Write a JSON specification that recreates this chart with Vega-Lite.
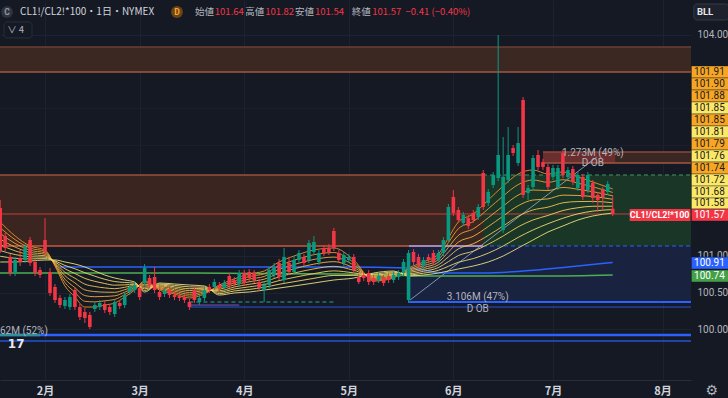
{
"$schema":"https://vega.github.io/schema/vega-lite/v6.json",
"width":691,"height":380,
"autosize":{"type":"none"},
"padding":{"left":0,"top":0,"right":37,"bottom":18},
"background":"#151924",
"config":{"view":{"stroke":null},"font":"Noto Sans CJK JP"},
"datasets":{
"candles":[
{"x":-9,"o":101.649,"c":101.079,"y2":101.758,"y":101.038},
{"x":-8,"o":101.269,"c":101.106,"y2":101.31,"y":101.065},
{"x":-7,"o":100.984,"c":100.766,"y2":101.024,"y":100.725},
{"x":-6,"o":100.766,"c":100.943,"y2":100.984,"y":100.725},
{"x":-5,"o":100.97,"c":100.916,"y2":101.079,"y":100.861},
{"x":-4,"o":100.943,"c":101.12,"y2":101.16,"y":100.902},
{"x":-3,"o":101.215,"c":100.902,"y2":101.255,"y":100.861},
{"x":-2,"o":100.916,"c":100.766,"y2":100.957,"y":100.725},
{"x":-1,"o":100.807,"c":100.739,"y2":100.848,"y":100.698},
{"x":0,"o":101.215,"c":101.052,"y2":101.513,"y":101.011},
{"x":1,"o":100.78,"c":100.495,"y2":100.834,"y":100.454},
{"x":2,"o":100.576,"c":100.399,"y2":100.617,"y":100.359},
{"x":3,"o":100.427,"c":100.331,"y2":100.467,"y":100.291},
{"x":4,"o":100.318,"c":100.399,"y2":100.44,"y":100.277},
{"x":5,"o":100.304,"c":100.44,"y2":100.481,"y":100.264},
{"x":6,"o":100.535,"c":100.304,"y2":100.576,"y":100.264},
{"x":7,"o":100.304,"c":100.168,"y2":100.345,"y":100.128},
{"x":8,"o":100.236,"c":100.155,"y2":100.291,"y":100.087},
{"x":9,"o":100.196,"c":100.033,"y2":100.236,"y":100.005},
{"x":10,"o":100.277,"c":100.331,"y2":100.372,"y":100.236},
{"x":11,"o":100.304,"c":100.359,"y2":100.399,"y":100.264},
{"x":12,"o":100.345,"c":100.264,"y2":100.386,"y":100.223},
{"x":13,"o":100.304,"c":100.236,"y2":100.345,"y":100.196},
{"x":14,"o":100.209,"c":100.372,"y2":100.399,"y":100.168},
{"x":15,"o":100.359,"c":100.318,"y2":100.399,"y":100.277},
{"x":16,"o":100.331,"c":100.467,"y2":100.508,"y":100.291},
{"x":17,"o":100.508,"c":100.576,"y2":100.617,"y":100.467},
{"x":18,"o":100.535,"c":100.603,"y2":100.644,"y":100.495},
{"x":19,"o":100.562,"c":100.44,"y2":100.603,"y":100.399},
{"x":20,"o":100.63,"c":100.834,"y2":100.888,"y":100.59},
{"x":21,"o":100.698,"c":100.603,"y2":100.739,"y":100.562},
{"x":22,"o":100.712,"c":100.535,"y2":100.848,"y":100.495},
{"x":23,"o":100.508,"c":100.44,"y2":100.549,"y":100.399},
{"x":24,"o":100.481,"c":100.522,"y2":100.562,"y":100.44},
{"x":25,"o":100.535,"c":100.467,"y2":100.576,"y":100.427},
{"x":26,"o":100.467,"c":100.44,"y2":100.508,"y":100.399},
{"x":27,"o":100.454,"c":100.427,"y2":100.495,"y":100.386},
{"x":28,"o":100.44,"c":100.399,"y2":100.481,"y":100.359},
{"x":29,"o":100.372,"c":100.304,"y2":100.413,"y":100.264},
{"x":30,"o":100.535,"c":100.399,"y2":100.59,"y":100.359},
{"x":31,"o":100.372,"c":100.427,"y2":100.467,"y":100.331},
{"x":32,"o":100.427,"c":100.535,"y2":100.576,"y":100.386},
{"x":33,"o":100.576,"c":100.535,"y2":100.617,"y":100.495},
{"x":34,"o":100.576,"c":100.644,"y2":100.685,"y":100.535},
{"x":35,"o":100.603,"c":100.562,"y2":100.644,"y":100.522},
{"x":36,"o":100.562,"c":100.63,"y2":100.671,"y":100.522},
{"x":37,"o":100.725,"c":100.603,"y2":100.766,"y":100.562},
{"x":38,"o":100.671,"c":100.617,"y2":100.712,"y":100.576},
{"x":39,"o":100.617,"c":100.766,"y2":100.807,"y":100.576},
{"x":40,"o":100.766,"c":100.63,"y2":100.807,"y":100.59},
{"x":41,"o":100.78,"c":100.698,"y2":100.82,"y":100.657},
{"x":42,"o":100.766,"c":100.671,"y2":100.807,"y":100.63},
{"x":43,"o":100.644,"c":100.562,"y2":100.685,"y":100.522},
{"x":44,"o":100.535,"c":100.603,"y2":100.644,"y":100.372},
{"x":45,"o":100.603,"c":100.807,"y2":100.848,"y":100.562},
{"x":46,"o":100.739,"c":100.848,"y2":100.902,"y":100.698},
{"x":47,"o":100.902,"c":100.712,"y2":100.957,"y":100.671},
{"x":48,"o":100.671,"c":100.984,"y2":101.106,"y":100.63},
{"x":49,"o":100.902,"c":100.78,"y2":100.984,"y":100.739},
{"x":50,"o":100.78,"c":100.943,"y2":100.997,"y":100.739},
{"x":51,"o":100.943,"c":101.038,"y2":101.079,"y":100.902},
{"x":52,"o":100.984,"c":100.902,"y2":101.024,"y":100.861},
{"x":53,"o":100.943,"c":101.174,"y2":101.215,"y":100.902},
{"x":54,"o":101.052,"c":101.187,"y2":101.269,"y":101.011},
{"x":55,"o":100.916,"c":101.038,"y2":101.079,"y":100.875},
{"x":56,"o":101.106,"c":101.038,"y2":101.147,"y":100.997},
{"x":57,"o":101.106,"c":101.052,"y2":101.16,"y":101.011},
{"x":58,"o":101.337,"c":101.106,"y2":101.378,"y":101.065},
{"x":59,"o":101.038,"c":100.943,"y2":101.079,"y":100.902},
{"x":60,"o":100.902,"c":101.011,"y2":101.052,"y":100.861},
{"x":61,"o":100.943,"c":100.984,"y2":101.024,"y":100.902},
{"x":62,"o":100.984,"c":100.807,"y2":101.024,"y":100.766},
{"x":63,"o":100.712,"c":100.644,"y2":100.753,"y":100.617},
{"x":64,"o":100.739,"c":100.698,"y2":100.78,"y":100.657},
{"x":65,"o":100.766,"c":100.644,"y2":100.807,"y":100.603},
{"x":66,"o":100.698,"c":100.644,"y2":100.739,"y":100.603},
{"x":67,"o":100.671,"c":100.725,"y2":100.766,"y":100.63},
{"x":68,"o":100.698,"c":100.63,"y2":100.739,"y":100.59},
{"x":69,"o":100.712,"c":100.671,"y2":100.753,"y":100.63},
{"x":70,"o":100.671,"c":100.739,"y2":100.78,"y":100.63},
{"x":71,"o":100.712,"c":100.766,"y2":100.807,"y":100.671},
{"x":72,"o":100.766,"c":100.916,"y2":100.957,"y":100.725},
{"x":73,"o":100.399,"c":101.038,"y2":101.079,"y":100.359},
{"x":74,"o":101.052,"c":100.916,"y2":101.092,"y":100.875},
{"x":75,"o":100.984,"c":100.875,"y2":101.024,"y":100.834},
{"x":76,"o":100.861,"c":100.943,"y2":100.984,"y":100.82},
{"x":77,"o":100.984,"c":100.943,"y2":101.024,"y":100.902},
{"x":78,"o":101.038,"c":100.916,"y2":101.079,"y":100.875},
{"x":79,"o":100.943,"c":101.038,"y2":101.079,"y":100.902},
{"x":80,"o":101.038,"c":101.215,"y2":101.255,"y":100.997},
{"x":81,"o":101.215,"c":101.663,"y2":101.704,"y":101.174},
{"x":82,"o":101.799,"c":101.581,"y2":101.894,"y":101.541},
{"x":83,"o":101.622,"c":101.486,"y2":101.663,"y":101.446},
{"x":84,"o":101.446,"c":101.554,"y2":101.595,"y":101.405},
{"x":85,"o":101.513,"c":101.405,"y2":101.554,"y":101.364},
{"x":86,"o":101.581,"c":101.486,"y2":101.622,"y":101.446},
{"x":87,"o":101.527,"c":101.663,"y2":101.704,"y":101.486},
{"x":88,"o":102.125,"c":101.663,"y2":102.166,"y":101.622},
{"x":89,"o":101.717,"c":101.867,"y2":101.908,"y":101.676},
{"x":90,"o":101.962,"c":102.098,"y2":102.139,"y":101.921},
{"x":91,"o":102.057,"c":102.37,"y2":104.0,"y":102.016},
{"x":92,"o":101.351,"c":102.071,"y2":102.614,"y":101.31},
{"x":93,"o":102.03,"c":102.37,"y2":102.75,"y":101.989},
{"x":94,"o":102.465,"c":102.397,"y2":102.505,"y":102.356},
{"x":95,"o":102.261,"c":102.532,"y2":102.75,"y":102.22},
{"x":96,"o":103.117,"c":101.826,"y2":103.158,"y":101.785},
{"x":97,"o":101.853,"c":101.921,"y2":101.962,"y":101.758},
{"x":98,"o":101.935,"c":102.329,"y2":102.37,"y":101.894},
{"x":99,"o":102.37,"c":102.207,"y2":102.438,"y":102.166},
{"x":100,"o":102.274,"c":102.207,"y2":102.315,"y":102.166},
{"x":101,"o":102.207,"c":101.935,"y2":102.247,"y":101.894},
{"x":102,"o":102.071,"c":102.193,"y2":102.234,"y":102.03},
{"x":103,"o":101.935,"c":102.193,"y2":102.234,"y":101.894},
{"x":104,"o":102.397,"c":102.098,"y2":102.438,"y":102.057},
{"x":105,"o":102.071,"c":102.166,"y2":102.207,"y":102.03},
{"x":106,"o":102.179,"c":102.003,"y2":102.22,"y":101.962},
{"x":107,"o":101.921,"c":102.098,"y2":102.139,"y":101.88},
{"x":108,"o":102.071,"c":101.799,"y2":102.111,"y":101.758},
{"x":109,"o":101.894,"c":102.098,"y2":102.139,"y":101.853},
{"x":110,"o":101.989,"c":101.785,"y2":102.03,"y":101.717},
{"x":111,"o":101.826,"c":101.758,"y2":101.867,"y":101.595},
{"x":112,"o":101.894,"c":101.799,"y2":101.935,"y":101.622},
{"x":113,"o":101.867,"c":101.975,"y2":102.016,"y":101.826},
{"x":114,"o":101.64,"c":101.57,"y2":101.82,"y":101.54}
],
"ma":[
{"x":-9,"a":101.459,"b":101.381,"c":101.304,"d":101.226,"e":101.149,"f":101.071,"g":100.994,"h":100.916},
{"x":-6,"a":101.269,"b":101.219,"c":101.168,"d":101.118,"e":101.067,"f":101.017,"g":100.966,"h":100.916},
{"x":-3,"a":101.133,"b":101.104,"c":101.075,"d":101.046,"e":101.016,"f":100.987,"g":100.958,"h":100.929},
{"x":0,"a":101.079,"b":101.06,"c":101.04,"d":101.021,"e":101.001,"f":100.982,"g":100.962,"h":100.943},
{"x":2,"a":100.861,"b":100.873,"c":100.884,"d":100.896,"e":100.908,"f":100.92,"g":100.931,"h":100.943},
{"x":4,"a":100.59,"b":100.637,"c":100.683,"d":100.73,"e":100.776,"f":100.823,"g":100.869,"h":100.916},
{"x":6,"a":100.44,"b":100.504,"c":100.568,"d":100.632,"e":100.696,"f":100.76,"g":100.824,"h":100.888},
{"x":8,"a":100.304,"b":100.382,"c":100.459,"d":100.537,"e":100.615,"f":100.693,"g":100.77,"h":100.848},
{"x":10,"a":100.304,"b":100.374,"c":100.444,"d":100.514,"e":100.583,"f":100.653,"g":100.723,"h":100.793},
{"x":12,"a":100.331,"b":100.389,"c":100.448,"d":100.506,"e":100.564,"f":100.623,"g":100.681,"h":100.739},
{"x":14,"a":100.359,"b":100.407,"c":100.456,"d":100.504,"e":100.553,"f":100.601,"g":100.65,"h":100.698},
{"x":16,"a":100.44,"b":100.473,"c":100.506,"d":100.539,"e":100.572,"f":100.605,"g":100.638,"h":100.671},
{"x":18,"a":100.535,"b":100.551,"c":100.566,"d":100.582,"e":100.597,"f":100.613,"g":100.628,"h":100.644},
{"x":20,"a":100.657,"b":100.636,"c":100.614,"d":100.593,"e":100.572,"f":100.551,"g":100.529,"h":100.508},
{"x":23,"a":100.535,"b":100.549,"c":100.562,"d":100.576,"e":100.589,"f":100.603,"g":100.616,"h":100.63},
{"x":26,"a":100.481,"b":100.5,"c":100.52,"d":100.539,"e":100.559,"f":100.578,"g":100.598,"h":100.617},
{"x":29,"a":100.427,"b":100.452,"c":100.477,"d":100.502,"e":100.528,"f":100.553,"g":100.578,"h":100.603},
{"x":32,"a":100.481,"b":100.497,"c":100.512,"d":100.528,"e":100.543,"f":100.559,"g":100.574,"h":100.59},
{"x":35,"a":100.603,"b":100.584,"c":100.564,"d":100.545,"e":100.525,"f":100.506,"g":100.486,"h":100.467},
{"x":38,"a":100.685,"b":100.658,"c":100.631,"d":100.604,"e":100.576,"f":100.549,"g":100.522,"h":100.495},
{"x":41,"a":100.753,"b":100.718,"c":100.683,"d":100.648,"e":100.613,"f":100.578,"g":100.543,"h":100.508},
{"x":44,"a":100.793,"b":100.756,"c":100.719,"d":100.682,"e":100.646,"f":100.609,"g":100.572,"h":100.535},
{"x":47,"a":100.916,"b":100.865,"c":100.815,"d":100.764,"e":100.714,"f":100.663,"g":100.613,"h":100.562},
{"x":50,"a":100.997,"b":100.939,"c":100.881,"d":100.823,"e":100.765,"f":100.706,"g":100.648,"h":100.59},
{"x":54,"a":101.079,"b":101.015,"c":100.951,"d":100.887,"e":100.822,"f":100.758,"g":100.694,"h":100.63},
{"x":58,"a":101.106,"b":101.044,"c":100.982,"d":100.92,"e":100.857,"f":100.795,"g":100.733,"h":100.671},
{"x":62,"a":100.943,"b":100.908,"c":100.873,"d":100.838,"e":100.803,"f":100.768,"g":100.733,"h":100.698},
{"x":66,"a":100.657,"b":100.673,"c":100.688,"d":100.704,"e":100.719,"f":100.735,"g":100.75,"h":100.766},
{"x":70,"a":100.698,"b":100.712,"c":100.725,"d":100.739,"e":100.752,"f":100.766,"g":100.779,"h":100.793},
{"x":73,"a":100.834,"b":100.818,"c":100.803,"d":100.787,"e":100.772,"f":100.756,"g":100.741,"h":100.725},
{"x":76,"a":100.916,"b":100.891,"c":100.865,"d":100.84,"e":100.815,"f":100.79,"g":100.764,"h":100.739},
{"x":79,"a":101.024,"b":100.987,"c":100.95,"d":100.913,"e":100.877,"f":100.84,"g":100.803,"h":100.766},
{"x":81,"a":101.242,"b":101.178,"c":101.114,"d":101.05,"e":100.985,"f":100.921,"g":100.857,"h":100.793},
{"x":83,"a":101.459,"b":101.368,"c":101.277,"d":101.186,"e":101.094,"f":101.003,"g":100.912,"h":100.821},
{"x":86,"a":101.568,"b":101.467,"c":101.366,"d":101.265,"e":101.164,"f":101.063,"g":100.962,"h":100.861},
{"x":89,"a":101.758,"b":101.638,"c":101.517,"d":101.397,"e":101.277,"f":101.157,"g":101.036,"h":100.916},
{"x":92,"a":101.948,"b":101.812,"c":101.676,"d":101.54,"e":101.405,"f":101.269,"g":101.133,"h":100.997},
{"x":95,"a":102.111,"b":101.967,"c":101.824,"d":101.68,"e":101.537,"f":101.393,"g":101.25,"h":101.106},
{"x":98,"a":102.166,"b":102.03,"c":101.894,"d":101.758,"e":101.623,"f":101.487,"g":101.351,"h":101.215},
{"x":101,"a":102.111,"b":101.998,"c":101.886,"d":101.773,"e":101.661,"f":101.548,"g":101.436,"h":101.323},
{"x":104,"a":102.139,"b":102.034,"c":101.929,"d":101.824,"e":101.72,"f":101.615,"g":101.51,"h":101.405},
{"x":107,"a":102.071,"b":101.987,"c":101.904,"d":101.82,"e":101.737,"f":101.653,"g":101.57,"h":101.486},
{"x":110,"a":102.003,"b":101.937,"c":101.871,"d":101.805,"e":101.739,"f":101.673,"g":101.607,"h":101.541},
{"x":114,"a":101.908,"b":101.861,"c":101.815,"d":101.768,"e":101.721,"f":101.674,"g":101.628,"h":101.581}
],
"ma2":[
{"x":3,"y":100.848,"s":"b"},{"x":30,"y":100.848,"s":"b"},{"x":60,"y":100.848,"s":"b"},{"x":73,"y":100.834,"s":"b"},{"x":80,"y":100.766,"s":"b"},{"x":88,"y":100.766,"s":"b"},{"x":96,"y":100.793,"s":"b"},{"x":105,"y":100.848,"s":"b"},{"x":114,"y":100.909,"s":"b"},
{"x":-9.04,"y":100.766,"s":"g"},{"x":30,"y":100.766,"s":"g"},{"x":60,"y":100.753,"s":"g"},{"x":80,"y":100.725,"s":"g"},{"x":100,"y":100.725,"s":"g"},{"x":114,"y":100.739,"s":"g"}
],
"grid":[{"x":-9.04,"x2":129.72,"y":101.5},{"x":-9.04,"x2":129.72,"y":102},{"x":-9.04,"x2":129.72,"y":102.5},{"x":-9.04,"x2":129.72,"y":103},{"x":-9.04,"x2":129.72,"y":103.5}],
"zones":[
{"x":-9.04,"x2":129.72,"y":103.497,"y2":103.837,"k":"top"},
{"x":-9.04,"x2":87.95,"y":101.133,"y2":102.098,"k":"big"},
{"x":87.95,"x2":129.72,"y":101.133,"y2":102.098,"k":"green"},
{"x":73.1,"x2":129.72,"y":100.372,"y2":101.133,"k":"blue"},
{"x":100,"x2":129.72,"y":102.261,"y2":102.41,"k":"ob"},
{"x":100,"x2":114.5,"y":102.261,"y2":102.41,"k":"obhl"}
],
"lines":[
{"x":-9.04,"x2":129.72,"y":103.837,"k":"topA"},
{"x":-9.04,"x2":129.72,"y":103.497,"k":"topB"},
{"x":-9.04,"x2":87.95,"y":102.098,"k":"bigTop"},
{"x":-9.04,"x2":87.95,"y":101.133,"k":"bigBot"},
{"x":100,"x2":129.72,"y":102.41,"k":"obA"},
{"x":100,"x2":129.72,"y":102.261,"k":"obB"},
{"x":73.1,"x2":87.95,"y":101.133,"k":"lav"},
{"x":-9.04,"x2":129.72,"y":101.568,"k":"price"},
{"x":29,"x2":129.72,"y":100.304,"k":"blue2"},
{"x":29,"x2":39,"y":100.331,"k":"purp"},
{"x":73.1,"x2":129.72,"y":100.372,"k":"obBlue"},
{"x":-9.04,"x2":129.72,"y":99.924,"k":"bot1"},
{"x":-9.04,"x2":-1,"y":99.924,"k":"bot1t"},
{"x":-9.04,"x2":129.72,"y":99.842,"k":"bot2"},
{"x":87.95,"x2":129.72,"y":102.098,"k":"greenDash"},
{"x":87.95,"x2":129.72,"y":101.133,"k":"blueDash"},
{"x":29,"x2":58,"y":100.372,"k":"tealDash"}
],
"diag":[{"x":73.3,"x2":110.8,"y":100.399,"y2":102.342}],
"legend":[
{"x":-5.02,"y":104.312,"t":"CL1!/CL2!*100・1日・NYMEX","k":"title"},
{"x":30.1,"y":104.312,"t":"始値","k":"lab"},
{"x":34.1,"y":104.312,"t":"101.64","k":"val"},
{"x":40.2,"y":104.312,"t":"高値","k":"lab"},
{"x":44.2,"y":104.312,"t":"101.82","k":"val"},
{"x":50.2,"y":104.312,"t":"安値","k":"lab"},
{"x":54.2,"y":104.312,"t":"101.54","k":"val"},
{"x":61.6,"y":104.312,"t":"終値","k":"lab"},
{"x":65.7,"y":104.312,"t":"101.57","k":"val"},
{"x":72.4,"y":104.312,"t":"−0.41 (−0.40%)","k":"val"},
{"x":-7.6,"y":104.068,"t":"∨ 4","k":"lab"}
],
"ann":[
{"x":110,"y":102.397,"t":"1.273M (49%)"},
{"x":110,"y":102.261,"t":"D OB"},
{"x":86.9,"y":100.44,"t":"3.106M (47%)"},
{"x":86.9,"y":100.277,"t":"D OB"}
],
"boxes":[
{"x":129.8,"x2":137.3,"y":103.416,"y2":103.579,"t":"101.91","k":"o"},
{"x":129.8,"x2":137.3,"y":103.253,"y2":103.416,"t":"101.90","k":"o"},
{"x":129.8,"x2":137.3,"y":103.09,"y2":103.253,"t":"101.88","k":"o"},
{"x":129.8,"x2":137.3,"y":102.927,"y2":103.09,"t":"101.85","k":"y"},
{"x":129.8,"x2":137.3,"y":102.764,"y2":102.927,"t":"101.85","k":"o"},
{"x":129.8,"x2":137.3,"y":102.6,"y2":102.764,"t":"101.81","k":"y"},
{"x":129.8,"x2":137.3,"y":102.437,"y2":102.6,"t":"101.79","k":"o"},
{"x":129.8,"x2":137.3,"y":102.274,"y2":102.437,"t":"101.76","k":"y"},
{"x":129.8,"x2":137.3,"y":102.111,"y2":102.274,"t":"101.74","k":"o"},
{"x":129.8,"x2":137.3,"y":101.948,"y2":102.111,"t":"101.72","k":"y"},
{"x":129.8,"x2":137.3,"y":101.785,"y2":101.948,"t":"101.68","k":"y"},
{"x":129.8,"x2":137.3,"y":101.636,"y2":101.785,"t":"101.58","k":"y"},
{"x":129.8,"x2":137.3,"y":101.473,"y2":101.636,"t":"101.57","k":"r"},
{"x":129.8,"x2":137.3,"y":100.821,"y2":100.984,"t":"100.91","k":"b"},
{"x":129.8,"x2":137.3,"y":100.644,"y2":100.807,"t":"100.74","k":"g"}
],
"tag":[{"x":117.4,"x2":129.6,"y":101.473,"y2":101.636,"t":"CL1!/CL2!*100"}],
"icons":[{"x":-7.63,"y":104.312,"t":"C","k":"c"},{"x":26.5,"y":104.312,"t":"D","k":"d"}]
},
"encoding":{
"x":{"field":"x","type":"quantitative","scale":{"domain":[-9.04,129.72],"nice":false,"zero":false,"padding":0},
"axis":{"values":[0,19,40,61,82,102,124],"labelExpr":"datum.value==0?'2月':datum.value==19?'3月':datum.value==40?'4月':datum.value==61?'5月':datum.value==82?'6月':datum.value==102?'7月':'8月'","title":null,"grid":true,"gridColor":"#1d2130","domainColor":"#2a2e39","ticks":false,"labelColor":"#d1d4dc","labelFontSize":11,"labelFontWeight":"bold","labelPadding":5,"labelFont":"Noto Sans CJK JP"}},
"y":{"field":"y","type":"quantitative","scale":{"domain":[99.3125,104.4755],"nice":false,"zero":false,"padding":0},
"axis":{"orient":"right","values":[100,100.5,101,104],"format":".2f","title":null,"grid":true,"gridColor":"#1d2130","domain":false,"ticks":false,"labelColor":"#b2b5be","labelFontSize":10,"labelPadding":6,"labelFont":"Roboto"}}
},
"resolve":{"scale":{"color":"independent"}},
"layer":[
{"data":{"name":"grid"},"mark":{"type":"rule","color":"#1d2130","strokeWidth":1},"encoding":{"x2":{"field":"x2"}}},
{"data":{"name":"zones"},"mark":{"type":"rect"},"encoding":{"x2":{"field":"x2"},"y2":{"field":"y2"},"color":{"field":"k","type":"nominal","legend":null,"scale":{"domain":["top","big","green","blue","ob","obhl"],"range":["#3b2822","#3a2520","#1a3627","#19223f","#3a2622","#6b2e2e"]}}}},
{"data":{"name":"lines"},
"encoding":{"x2":{"field":"x2"},"color":{"field":"k","type":"nominal","legend":null,"scale":{"domain":["topA","topB","bigTop","bigBot","obA","obB","lav","price","blue2","purp","obBlue","bot1","bot1t","bot2","greenDash","blueDash","tealDash"],"range":["#6e3f33","#a5573f","#9c513a","#c65a40","#8b4a3a","#a5573f","#a99be0","#c2413c","#2a56d8","#7e57c2","#2962ff","#2962ff","#2f8f9a","#2452d6","#3f9a62","#2962ff","#26a69a"]}}},
"layer":[
{"transform":[{"filter":{"field":"k","oneOf":["topA","topB","bigTop","bigBot","obA","obB","lav","bot2"]}}],"mark":{"type":"rule","strokeWidth":1.5}},
{"transform":[{"filter":{"field":"k","oneOf":["price","blue2","purp"]}}],"mark":{"type":"rule","strokeWidth":1}},
{"transform":[{"filter":{"field":"k","oneOf":["obBlue"]}}],"mark":{"type":"rule","strokeWidth":2}},
{"transform":[{"filter":{"field":"k","oneOf":["bot1","bot1t"]}}],"mark":{"type":"rule","strokeWidth":2.5}},
{"transform":[{"filter":{"field":"k","oneOf":["greenDash","blueDash","tealDash"]}}],"mark":{"type":"rule","strokeWidth":1,"strokeDash":[4,3]}}
]},
{"data":{"name":"diag"},"mark":{"type":"rule","color":"#9db0d0","strokeWidth":1,"opacity":0.8},"encoding":{"x2":{"field":"x2"},"y2":{"field":"y2"}}},
{"data":{"name":"ma2"},"mark":{"type":"line","strokeWidth":1.5,"interpolate":"monotone"},"encoding":{"detail":{"field":"s"},"color":{"field":"s","type":"nominal","legend":null,"scale":{"domain":["b","g"],"range":["#2962ff","#4caf50"]}}}},
{"data":{"name":"ma"},"transform":[{"fold":["a","b","c","d","e","f","g","h"],"as":["k","y"]}],"mark":{"type":"line","strokeWidth":1,"interpolate":"monotone","opacity":0.9},"encoding":{"detail":{"field":"k"},"color":{"field":"k","type":"nominal","legend":null,"scale":{"domain":["a","b","c","d","e","f","g","h"],"range":["#e8912a","#eb9c33","#eea83d","#f1b547","#f3c252","#f5cf5e","#f0d96a","#ebe07a"]}}}},
{"data":{"name":"candles"},"mark":{"type":"rule","strokeWidth":1},"encoding":{"y2":{"field":"y2"},"color":{"condition":{"test":"datum.c>=datum.o","value":"#089981"},"value":"#f23645"}}},
{"data":{"name":"candles"},"mark":{"type":"bar","size":3.6},"encoding":{"y":{"field":"o","type":"quantitative","scale":{"domain":[99.3125,104.4755],"nice":false,"zero":false,"padding":0},"axis":{"orient":"right","values":[100,100.5,101,104],"format":".2f","title":null,"grid":true,"gridColor":"#1d2130","domain":false,"ticks":false,"labelColor":"#b2b5be","labelFontSize":10,"labelPadding":6,"labelFont":"Roboto"}},"y2":{"field":"c"},"color":{"condition":{"test":"datum.c>=datum.o","value":"#089981"},"value":"#f23645"}}},
{"data":{"name":"ann"},"mark":{"type":"text","align":"center","baseline":"middle","fontSize":10,"color":"#b2b5be","font":"Roboto"},"encoding":{"text":{"field":"t"}}},
{"data":{"values":[{"x":-9.04,"y":99.978,"t":"62M (52%)"}]},"mark":{"type":"text","align":"left","baseline":"middle","fontSize":10,"color":"#b2b5be","font":"Roboto"},"encoding":{"text":{"field":"t"}}},
{"data":{"values":[{"x":-5.8,"y":99.8,"t":"17"}]},"mark":{"type":"text","align":"center","baseline":"middle","fontSize":12,"fontWeight":"bold","color":"#e6e8ee","font":"DejaVu Sans"},"encoding":{"text":{"field":"t"}}},
{"data":{"values":[{"x":-8.23,"x2":-2.61,"y":103.96,"y2":104.177}]},"mark":{"type":"rect","fill":"#151924","stroke":"#2a2e39","strokeWidth":1,"cornerRadius":3},"encoding":{"x2":{"field":"x2"},"y2":{"field":"y2"}}},
{"data":{"name":"legend"},"mark":{"type":"text","align":"left","baseline":"middle","font":"Noto Sans CJK JP"},"encoding":{"text":{"field":"t"},"color":{"field":"k","type":"nominal","legend":null,"scale":{"domain":["title","lab","val"],"range":["#d1d4dc","#b2b5be","#f23645"]}},"size":{"condition":{"test":"datum.k==='title'","value":10},"value":9.5}}},
{"data":{"name":"icons"},"mark":{"type":"point","shape":"circle","filled":true,"size":140,"opacity":1},"encoding":{"color":{"field":"k","type":"nominal","legend":null,"scale":{"domain":["c","d"],"range":["#2f333e","#6a4616"]}}}},
{"data":{"name":"icons"},"mark":{"type":"text","align":"center","baseline":"middle","fontSize":8.5,"fontWeight":"bold","font":"Roboto"},"encoding":{"text":{"field":"t"},"color":{"field":"k","type":"nominal","legend":null,"scale":{"domain":["c","d"],"range":["#9598a1","#ffa726"]}}}},
{"data":{"name":"tag"},"mark":{"type":"rect","fill":"#f23645"},"encoding":{"x2":{"field":"x2"},"y2":{"field":"y2"}}},
{"data":{"name":"tag"},"mark":{"type":"text","align":"center","baseline":"middle","dx":30,"dy":-6,"fontSize":9,"color":"#ffffff","font":"Roboto","fontWeight":"bold"},"encoding":{"text":{"field":"t"}}},
{"data":{"name":"boxes"},"mark":{"type":"rect","stroke":"#151924","strokeWidth":0.4},"encoding":{"x2":{"field":"x2"},"y2":{"field":"y2"},"color":{"field":"k","type":"nominal","legend":null,"scale":{"domain":["o","y","r","b","g"],"range":["#f7a623","#fbe866","#f23645","#2962ff","#43a047"]}}}},
{"data":{"name":"boxes"},"mark":{"type":"text","align":"center","baseline":"middle","dx":18,"dy":-6,"fontSize":10,"font":"Roboto"},"encoding":{"text":{"field":"t"},"color":{"field":"k","type":"nominal","legend":null,"scale":{"domain":["o","y","r","b","g"],"range":["#1a1c24","#1a1c24","#ffffff","#ffffff","#ffffff"]}}}},
{"data":{"values":[{"x":130.3,"x2":137.3,"y":104.204,"y2":104.421}]},"mark":{"type":"rect","fill":"#1e222d","stroke":"#363a45","strokeWidth":1,"cornerRadius":3},"encoding":{"x2":{"field":"x2"},"y2":{"field":"y2"}}},
{"data":{"values":[{"x":130.9,"y":104.312,"t":"BLL"}]},"mark":{"type":"text","align":"left","baseline":"middle","fontSize":9.5,"fontWeight":"bold","color":"#e6e8ee","font":"Roboto"},"encoding":{"text":{"field":"t"}}},
{"data":{"values":[{"x":133.9,"y":99.163,"t":"⚙"}]},"mark":{"type":"text","align":"center","baseline":"middle","fontSize":14,"color":"#b2b5be","font":"DejaVu Sans"},"encoding":{"text":{"field":"t"}}}
]
}
